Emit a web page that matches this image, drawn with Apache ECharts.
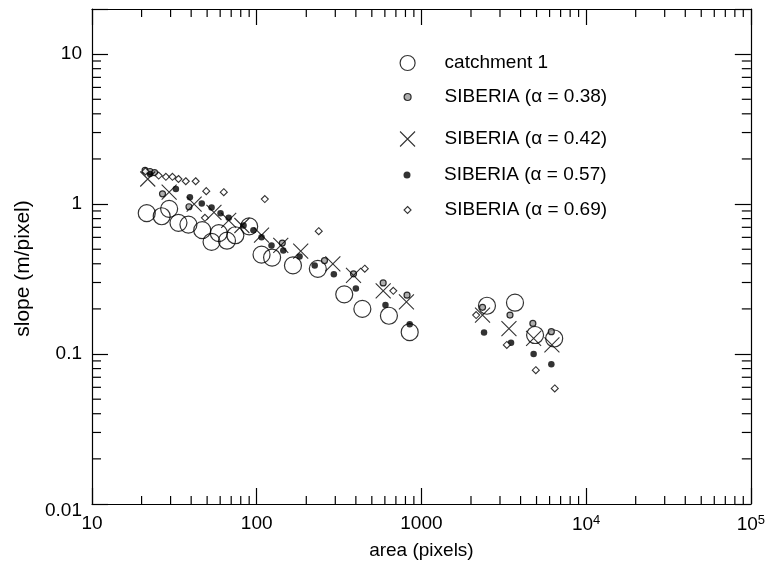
<!DOCTYPE html>
<html><head><meta charset="utf-8">
<script src="https://cdn.jsdelivr.net/npm/echarts@6/dist/echarts.min.js"></script>
<style>html,body{margin:0;padding:0;background:#fff}#c{width:768px;height:570px}</style>
</head><body><div id="c"></div>
<script>
// ---- data ----
const seriesNames = ['catchment 1', 'SIBERIA (\u03b1 = 0.38)', 'SIBERIA (\u03b1 = 0.42)', 'SIBERIA (\u03b1 = 0.57)', 'SIBERIA (\u03b1 = 0.69)'];
const catchment1 = [[21.5,0.87],[26.5,0.83],[29.4,0.93],[33.5,0.75],[38.5,0.73],[46.7,0.67],[53.2,0.56],[58.9,0.64],[66,0.57],[74.2,0.62],[90,0.71],[107,0.46],[124,0.44],[166,0.39],[235,0.37],[340,0.25],[438,0.20],[635,0.18],[849,0.14],[2500,0.21],[3700,0.22],[4900,0.134],[6400,0.127]];
const alpha038 = [[21,1.68],[22.5,1.65],[24,1.62],[26.8,1.17],[38.8,0.96],[143,0.55],[258,0.42],[387,0.343],[586,0.298],[818,0.247],[2350,0.205],[3450,0.182],[4750,0.160],[6150,0.141]];
const alpha042 = [[21.8,1.47],[29.4,1.20],[41.7,1.0],[55,0.88],[67.6,0.78],[81.3,0.72],[107,0.62],[140,0.53],[185,0.485],[290,0.40],[387,0.335],[586,0.264],[811,0.223],[2350,0.182],[3400,0.148],[4800,0.127],[6200,0.115]];
const alpha057 = [[22.5,1.59],[32.3,1.26],[39.3,1.11],[46.4,1.01],[53.2,0.95],[60.3,0.87],[67.6,0.81],[83.2,0.72],[95.5,0.67],[107,0.60],[123,0.53],[145,0.49],[182,0.448],[225,0.39],[294,0.34],[400,0.274],[605,0.212],[849,0.158],[2400,0.139],[3500,0.119],[4800,0.100],[6150,0.0855]];
const alpha069 = [[21.1,1.65],[25.4,1.55],[28.1,1.52],[30.8,1.52],[33.5,1.47],[37.1,1.42],[42.6,1.42],[48.5,0.81],[49.4,1.22],[63.1,1.20],[112,1.08],[238,0.66],[453,0.371],[675,0.264],[2150,0.182],[3300,0.115],[4950,0.078],[6450,0.059]];
const xRange = [10, 100000];
const yRange = [0.01, 20];
const xMajorLabels = [[10,'10'],[100,'100'],[1000,'1000'],[10000,'10{sup|4}'],[100000,'10{sup|5}']];
const yMajorLabels = [[0.01,'{low|0.01}'],[0.1,'0.1'],[1,'1'],[10,'10']];
const xMinorTicks = [20,30,40,50,60,70,80,90,200,300,400,500,600,700,800,900,2000,3000,4000,5000,6000,7000,8000,9000,20000,30000,40000,50000,60000,70000,80000,90000];
const yMinorTicks = [0.02,0.03,0.04,0.05,0.06,0.07,0.08,0.09,0.2,0.3,0.4,0.5,0.6,0.7,0.8,0.9,2,3,4,5,6,7,8,9];

// ---- chart ----
const FONT = '"Liberation Sans", Arial, Helvetica, sans-serif';
const lineStyle = {color: '#000', width: 1.2};
function lookup(list, v) {
  for (const [k, s] of list) if (Math.abs(Math.log10(v) - Math.log10(k)) < 1e-6) return s;
  return '';
}
const chart = echarts.init(document.getElementById('c'), null, {renderer: 'canvas'});
const baseAxis = {
  type: 'log', logBase: 10,
  axisLine: {show: true, onZero: false, lineStyle},
  axisTick: {show: true, inside: true, length: 16, lineStyle},
  splitLine: {show: false}, minorTick: {show: false}, minorSplitLine: {show: false}
};
const legendRows = [63, 97, 139, 175, 210];
const iconSizes = [15, 7, 15, 7, 7];
const symbols = ['circle', 'circle', 'path://M0,0L10,10M10,0L0,10', 'circle', 'diamond'];
const sizes = [17, 6, 15, 6.5, 7];
const styles = [
  {color: 'rgba(0,0,0,0)', borderColor: '#000', borderWidth: 1.2},
  {color: '#9a9a9a', borderColor: '#000', borderWidth: 1.2},
  {color: 'rgba(0,0,0,0)', borderColor: '#000', borderWidth: 1.1},
  {color: '#000', borderColor: '#000', borderWidth: 0},
  {color: '#fff', borderColor: '#000', borderWidth: 1.1}
];
const datasets = [catchment1, alpha038, alpha042, alpha057, alpha069];
const ICON_X = 407, TEXT_X = 444;

const option = {
  animation: false,
  backgroundColor: '#fff',
  textStyle: {fontFamily: FONT},
  grid: {left: 92, right: 11, top: 9, bottom: 66, containLabel: false},
  legend: seriesNames.map((n, i) => ({
    data: [n], selectedMode: false, orient: 'horizontal', padding: 0,
    left: ICON_X - iconSizes[i] / 2, top: legendRows[i] - 11,
    itemWidth: iconSizes[i], itemHeight: iconSizes[i],
    itemStyle: {borderWidth: styles[i].borderWidth},
    formatter: '{p|}{t|{name}}',
    textStyle: {fontFamily: FONT, fontSize: 19, color: '#000', lineHeight: 22,
      rich: {p: {width: TEXT_X - (ICON_X + iconSizes[i] / 2 + 5)}, t: {fontFamily: FONT, fontSize: 19, color: '#000', lineHeight: 22}}}
  })),
  xAxis: [
    Object.assign({}, baseAxis, {
      min: xRange[0], max: xRange[1], position: 'bottom',
      axisLabel: {show: true, margin: 10, color: '#000', fontFamily: FONT, fontSize: 19,
        formatter: v => lookup(xMajorLabels, v),
        rich: {sup: {fontSize: 13, fontFamily: FONT, color: '#000', padding: [0, 0, 9, 0]}}},
      name: 'area (pixels)', nameLocation: 'middle', nameGap: 37,
      nameTextStyle: {fontFamily: FONT, fontSize: 19, color: '#000'}
    }),
    Object.assign({}, baseAxis, {min: xRange[0], max: xRange[1], position: 'top', axisLabel: {show: false}})
  ],
  yAxis: [
    Object.assign({}, baseAxis, {
      min: yRange[0], max: yRange[1], position: 'left',
      axisLabel: {show: true, margin: 10, color: '#000', fontFamily: FONT, fontSize: 19,
        formatter: v => lookup(yMajorLabels, v),
        rich: {low: {fontSize: 19, fontFamily: FONT, color: '#000', padding: [14, 0, 0, 0]}}},
      name: 'slope (m/pixel)', nameLocation: 'middle', nameGap: 53, nameRotate: 90,
      nameTextStyle: {fontFamily: FONT, fontSize: 21, color: '#000', padding: [0, 24, 0, 0]}
    }),
    Object.assign({}, baseAxis, {min: yRange[0], max: yRange[1], position: 'right', axisLabel: {show: false}})
  ],
  series: datasets.map((d, i) => ({
    name: seriesNames[i], type: 'scatter', data: d,
    symbol: symbols[i], symbolSize: sizes[i], itemStyle: styles[i],
    xAxisIndex: 0, yAxisIndex: 0, silent: true, z: 3 + i
  })).concat([{
    type: 'custom', silent: true, clip: false, xAxisIndex: 0, yAxisIndex: 0, z: 1,
    data: xMinorTicks.map(v => [v, yRange[0], 0]).concat(yMinorTicks.map(v => [xRange[0], v, 1])),
    renderItem: (params, api) => {
      const kind = api.value(2);
      const st = {stroke: '#000', lineWidth: 1.2};
      if (kind === 0) {
        const b = api.coord([api.value(0), yRange[0]]);
        const t = api.coord([api.value(0), yRange[1]]);
        return {type: 'group', children: [
          {type: 'line', shape: {x1: b[0], y1: b[1], x2: b[0], y2: b[1] - 8}, style: st},
          {type: 'line', shape: {x1: t[0], y1: t[1], x2: t[0], y2: t[1] + 8}, style: st}
        ]};
      }
      const l = api.coord([xRange[0], api.value(1)]);
      const r = api.coord([xRange[1], api.value(1)]);
      return {type: 'group', children: [
        {type: 'line', shape: {x1: l[0], y1: l[1], x2: l[0] + 9, y2: l[1]}, style: st},
        {type: 'line', shape: {x1: r[0], y1: r[1], x2: r[0] - 9, y2: r[1]}, style: st}
      ]};
    }
  }])
};
chart.setOption(option);
</script></body></html>
